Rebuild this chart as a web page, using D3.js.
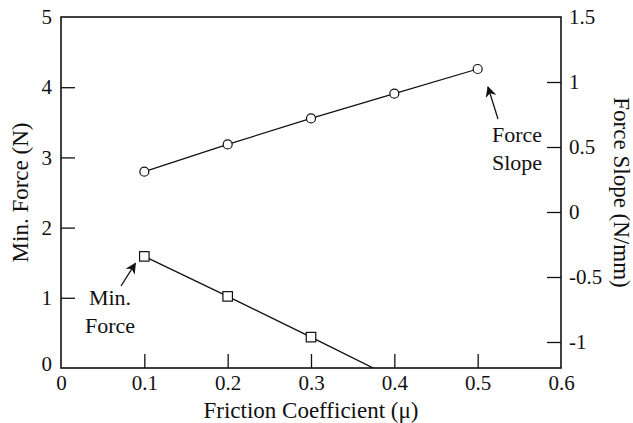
<!DOCTYPE html>
<html lang="en">
<head>
<meta charset="UTF-8">
<title>Min. Force and Force Slope vs Friction Coefficient</title>
<script src="https://d3js.org/d3.v7.min.js"></script>
<style>
    body { margin: 0; background: #fff; }
    svg text { font-family: "Liberation Serif", "DejaVu Serif", serif; fill: #111; }
    .tick-label { font-size: 21px; }
    .title { font-size: 23px; }
    .note { font-size: 22px; }
</style>
</head>
<body>
<svg id="chart" width="633" height="423"></svg>
<script>
    // friction coefficient values
    let mu = [0.1, 0.2, 0.3, 0.4, 0.5]
    // force slope (N/mm), right axis
    let forceSlope = [0.31, 0.52, 0.72, 0.91, 1.10]
    // min force (N), left axis -- last point below zero gets clipped
    let minForceMu = [0.1, 0.2, 0.3, 0.4]
    let minForce = [1.59, 1.02, 0.44, -0.15]

    let xTicks = [0, 0.1, 0.2, 0.3, 0.4, 0.5, 0.6]
    let leftTicks = [0, 1, 2, 3, 4, 5]
    let rightTicks = [-1, -0.5, 0, 0.5, 1, 1.5]

    let pLeft = 61, pRight = 561, pTop = 17, pBottom = 368
    let tickLen = 14

    let svg = d3.select("#chart")

    let x = d3.scaleLinear().domain([0, 0.6]).range([pLeft, pRight])
    let yL = d3.scaleLinear().domain([0, 5]).range([pBottom, pTop])
    let yR = d3.scaleLinear().domain([-1.2, 1.5]).range([pBottom, pTop])

    let defs = svg.append("defs")
    defs.append("clipPath").attr("id", "plot")
        .append("rect").attr("x", pLeft).attr("y", pTop)
        .attr("width", pRight - pLeft).attr("height", pBottom - pTop)

    // arrow head for the notes
    defs.append("marker")
        .attr("id", "arrow")
        .attr("viewBox", "0 0 10 10")
        .attr("refX", 9).attr("refY", 5)
        .attr("markerWidth", 11).attr("markerHeight", 11)
        .attr("markerUnits", "userSpaceOnUse")
        .attr("orient", "auto")
        .append("path")
        .attr("d", "M0,0 L10,5 L0,10 L3,5 Z")
        .attr("fill", "#111")

    // axes - ticks point inward
    let gx = svg.append("g").attr("transform", `translate(0,${pBottom})`)
        .call(d3.axisBottom(x).tickValues(xTicks).tickSizeInner(-tickLen).tickSizeOuter(0)
            .tickPadding(7).tickFormat(d => d === 0 ? "0" : d3.format(".1f")(d)))
    let gl = svg.append("g").attr("transform", `translate(${pLeft},0)`)
        .call(d3.axisLeft(yL).tickValues(leftTicks).tickSizeInner(-tickLen).tickSizeOuter(0)
            .tickPadding(9).tickFormat(d3.format("d")))
    let gr = svg.append("g").attr("transform", `translate(${pRight},0)`)
        .call(d3.axisRight(yR).tickValues(rightTicks).tickSizeInner(-tickLen).tickSizeOuter(0)
            .tickPadding(8).tickFormat(d => d === 0 ? "0" : String(d)))

    for (let g of [gx, gl, gr]) {
        g.select(".domain").remove()
        g.attr("font-size", null).attr("font-family", null)
        g.selectAll("text").attr("class", "tick-label")
        g.selectAll("line").attr("stroke", "#111").attr("stroke-width", 1.3)
    }
    // no tick marks on the frame corners
    gx.selectAll(".tick").filter(d => d === 0 || d === 0.6).select("line").remove()
    gl.selectAll(".tick").filter(d => d === 0 || d === 5).select("line").remove()
    gr.selectAll(".tick").filter(d => d === 1.5).select("line").remove()
    gl.selectAll(".tick").filter(d => d === 0).select("text").attr("dy", "0.1em")

    // frame
    svg.append("rect")
        .attr("x", pLeft).attr("y", pTop)
        .attr("width", pRight - pLeft).attr("height", pBottom - pTop)
        .attr("fill", "none").attr("stroke", "#111").attr("stroke-width", 1.6)

    let plot = svg.append("g").attr("clip-path", "url(#plot)")

    // force slope series (circles)
    let slopeData = mu.map((m, i) => ({ m: m, v: forceSlope[i] }))
    plot.append("path").datum(slopeData)
        .attr("d", d3.line().x(d => x(d.m)).y(d => yR(d.v)))
        .attr("fill", "none").attr("stroke", "#111").attr("stroke-width", 1.3)
    plot.selectAll(".circ").data(slopeData).enter().append("circle")
        .attr("cx", d => x(d.m)).attr("cy", d => yR(d.v)).attr("r", 4.5)
        .attr("fill", "#fff").attr("stroke", "#111").attr("stroke-width", 1.2)

    // min force series (squares)
    let forceData = minForceMu.map((m, i) => ({ m: m, v: minForce[i] }))
    plot.append("path").datum(forceData)
        .attr("d", d3.line().x(d => x(d.m)).y(d => yL(d.v)))
        .attr("fill", "none").attr("stroke", "#111").attr("stroke-width", 1.3)
    let sq = 9.5
    plot.selectAll(".sq").data(forceData).enter().append("rect")
        .attr("x", d => x(d.m) - sq / 2).attr("y", d => yL(d.v) - sq / 2)
        .attr("width", sq).attr("height", sq)
        .attr("fill", "#fff").attr("stroke", "#111").attr("stroke-width", 1.2)

    // axis titles
    svg.append("text").attr("class", "title")
        .attr("x", (pLeft + pRight) / 2).attr("y", 418)
        .attr("text-anchor", "middle")
        .text("Friction Coefficient (\u03bc)")
    svg.append("text").attr("class", "title")
        .attr("transform", `translate(28,${(pTop + pBottom) / 2}) rotate(-90)`)
        .attr("text-anchor", "middle")
        .text("Min. Force (N)")
    svg.append("text").attr("class", "title")
        .attr("transform", `translate(614,${(pTop + pBottom) / 2}) rotate(90)`)
        .attr("text-anchor", "middle")
        .text("Force Slope (N/mm)")

    // notes with arrows
    let notes = svg.append("g")
    notes.append("text").attr("class", "note").attr("text-anchor", "middle")
        .attr("x", 110).attr("y", 305).text("Min.")
    notes.append("text").attr("class", "note").attr("text-anchor", "middle")
        .attr("x", 110).attr("y", 333).text("Force")
    notes.append("line")
        .attr("x1", 121).attr("y1", 286).attr("x2", x(0.1) - 9).attr("y2", yL(minForce[0]) + 7)
        .attr("stroke", "#111").attr("stroke-width", 1.3).attr("marker-end", "url(#arrow)")

    notes.append("text").attr("class", "note").attr("text-anchor", "middle")
        .attr("x", 517).attr("y", 142).text("Force")
    notes.append("text").attr("class", "note").attr("text-anchor", "middle")
        .attr("x", 517).attr("y", 170).text("Slope")
    notes.append("line")
        .attr("x1", 498).attr("y1", 119).attr("x2", 488).attr("y2", 87)
        .attr("stroke", "#111").attr("stroke-width", 1.3).attr("marker-end", "url(#arrow)")
</script>
</body>
</html>
